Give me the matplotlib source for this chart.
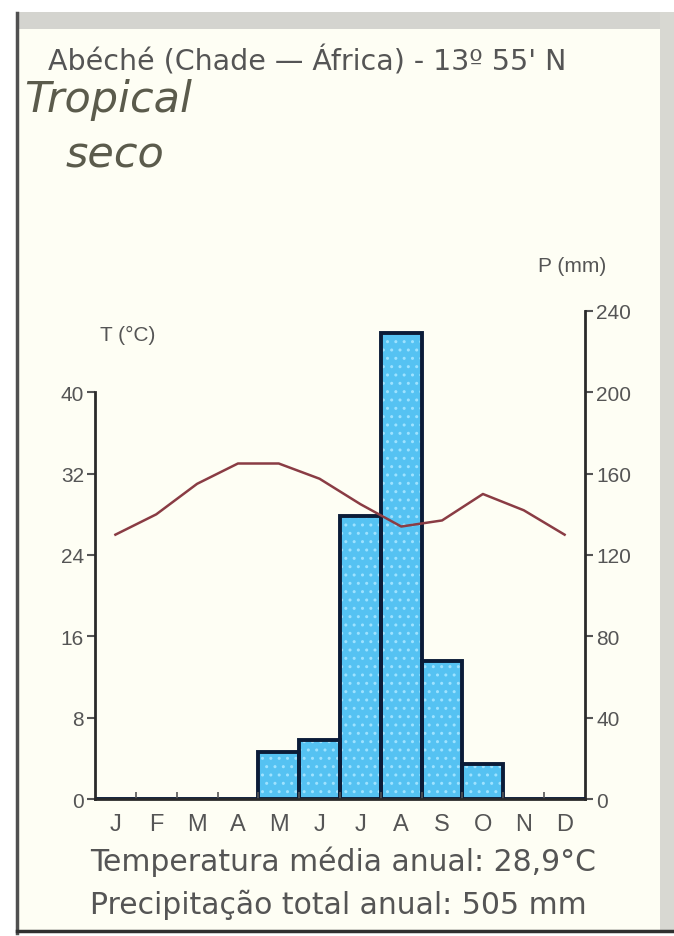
import numpy as np
import matplotlib
matplotlib.use("Agg")
import matplotlib.pyplot as plt
from matplotlib.patches import Rectangle
from matplotlib.lines import Line2D

# Data (Abéché, Chade)
months = ["J", "F", "M", "A", "M", "J", "J", "A", "S", "O", "N", "D"]
temp_c = [26.0, 28.0, 31.0, 33.0, 33.0, 31.5, 29.0, 26.8, 27.4, 30.0, 28.4, 26.0]
precip_mm = [0, 0, 0, 0, 23, 29, 139, 229, 68, 17, 0, 0]
t_ticks = [0, 8, 16, 24, 32, 40]
p_ticks = [0, 40, 80, 120, 160, 200, 240]

W, H = 674, 937
fig = plt.figure(figsize=(W / 100, H / 100), dpi=100)
fig.patch.set_facecolor("white")

def fx(px):
    return px / W

def fy(py):
    return 1 - py / H

# paper / scan frame
fig.patches.append(Rectangle((fx(17), fy(932)), fx(645), fy(15) - fy(932),
                             transform=fig.transFigure, facecolor="#fefef4",
                             edgecolor="none", zorder=-3))
fig.patches.append(Rectangle((fx(17), fy(30)), fx(657), fy(13) - fy(30),
                             transform=fig.transFigure, facecolor="#d4d4cf",
                             edgecolor="none", zorder=-2))
fig.patches.append(Rectangle((fx(660), fy(932)), fx(14), fy(13) - fy(932),
                             transform=fig.transFigure, facecolor="#d8d8d2",
                             edgecolor="none", zorder=-2))
fig.lines.append(Line2D([fx(17), fx(17)], [fy(14), fy(934)], transform=fig.transFigure,
                        color="#505050", lw=2.5, zorder=-1))
fig.lines.append(Line2D([fx(17), fx(674)], [fy(932), fy(932)], transform=fig.transFigure,
                        color="#303030", lw=2.5, zorder=-1))

# main axes: temperature on the left, precipitation on the right (5 mm = 1 °C)
ax = fig.add_axes([fx(95), fy(800), fx(585) - fx(95), fy(312) - fy(800)])
ax.set_xlim(0, 12)
ax.set_ylim(0, 48)
axp = ax.twinx()
axp.set_ylim(0, 240)
ax.set_zorder(2)
axp.set_zorder(1)
ax.set_facecolor("none")
axp.set_facecolor("none")

x = np.arange(12) + 0.5
bar_col = "#55c2f2"
edge_col = "#0b1c38"
axp.bar(x, precip_mm, width=1.0, color=bar_col, edgecolor="none", zorder=2)
axp.bar(x, precip_mm, width=1.0, fill=False, hatch="..", edgecolor="#9ee2ff",
        linewidth=0, zorder=3)
axp.bar(x, precip_mm, width=1.0, fill=False, edgecolor=edge_col, linewidth=2.8, zorder=4)

ax.plot(x, temp_c, color="#8a3c44", lw=1.8, zorder=5)

for a in (ax, axp):
    a.spines["top"].set_visible(False)
ax.spines["right"].set_visible(False)
axp.spines["left"].set_visible(False)
ax.spines["left"].set_bounds(0, 40)
axp.spines["right"].set_bounds(0, 240)
for s in (ax.spines["left"], ax.spines["bottom"], axp.spines["right"]):
    s.set_color("#2a2a2a")
    s.set_linewidth(2)
axp.spines["bottom"].set_visible(False)

ax.set_yticks(t_ticks)
ax.set_yticklabels([str(t) for t in t_ticks], fontsize=15, color="#555555",
                   family="Liberation Sans")
ax.tick_params(axis="y", direction="out", length=6, width=1.5, color="#555555", pad=2)
axp.set_yticks(p_ticks)
axp.set_yticklabels([str(p) for p in p_ticks], fontsize=15, color="#555555",
                    family="Liberation Sans")
axp.tick_params(axis="y", direction="out", length=6, width=1.5, color="#555555", pad=2)

ax.set_xticks(np.arange(1, 12))
ax.set_xticklabels([])
ax.tick_params(axis="x", direction="in", length=5, width=1.2, color="#555555")
for i, m in enumerate(months):
    ax.text(x[i], -1.4, m, ha="center", va="top", fontsize=17, color="#555555",
            family="Liberation Sans")

# axis titles
fig.text(fx(100), fy(335), "T (°C)", fontsize=15, color="#555555",
         family="Liberation Sans", va="center")
fig.text(fx(538), fy(266), "P (mm)", fontsize=15, color="#555555",
         family="Liberation Sans", va="center")

# header
fig.text(fx(48), fy(62), "Abéché (Chade — África) - 13º 55' N", fontsize=20.5,
         color="#555555", family="DejaVu Sans", va="center")
fig.text(fx(24), fy(100), "Tropical", fontsize=31, style="italic",
         color="#5b5b4c", va="center")
fig.text(fx(66), fy(156), "seco", fontsize=31, style="italic",
         color="#5b5b4c", va="center")

# footer
fig.text(fx(90), fy(862), "Temperatura média anual: 28,9°C", fontsize=21.5,
         color="#555555", family="DejaVu Sans", va="center")
fig.text(fx(90), fy(905), "Precipitação total anual: 505 mm", fontsize=21.5,
         color="#555555", family="DejaVu Sans", va="center")

fig.savefig("out.png", dpi=100)
